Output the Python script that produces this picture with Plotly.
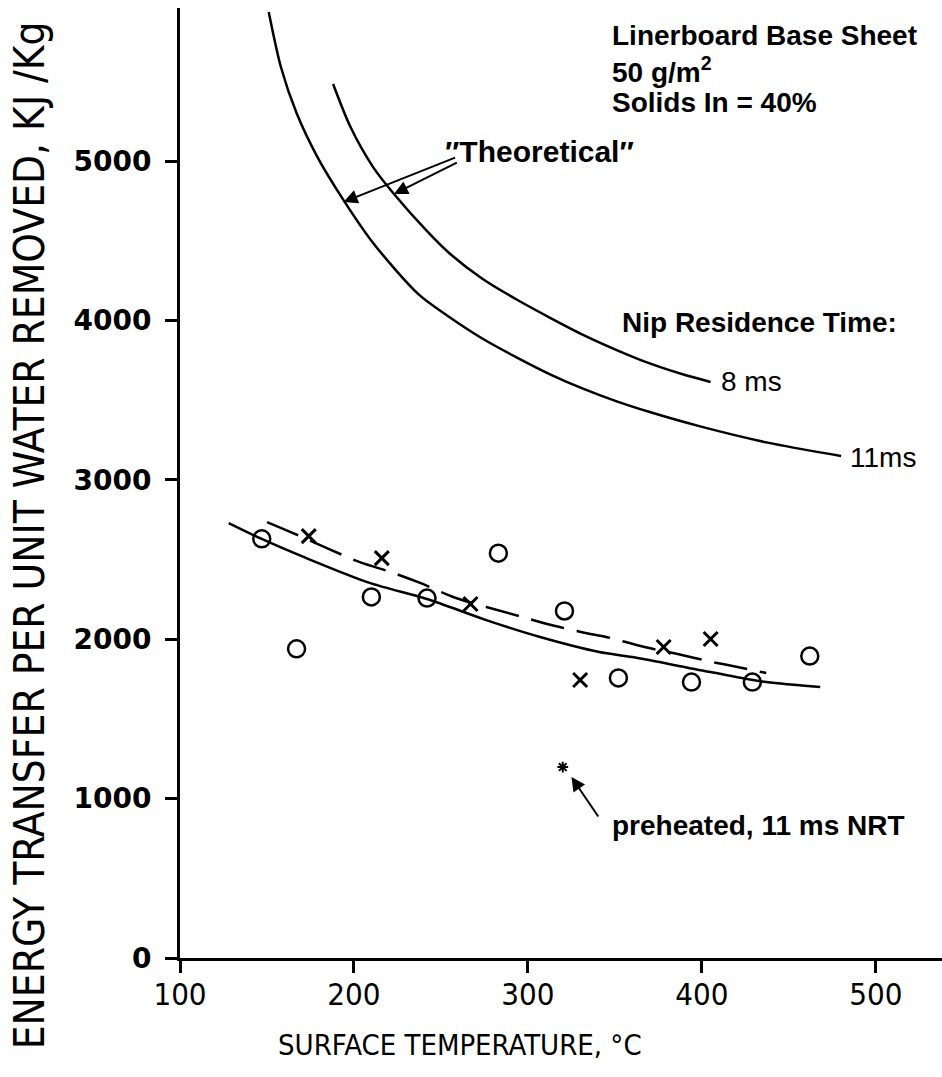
import plotly.graph_objects as go

# ---- data ----
circle_temp = [147, 167, 210, 242, 283, 321, 352, 394, 429, 462]
circle_energy = [2630, 1940, 2265, 2258, 2540, 2177, 1757, 1731, 1731, 1894]

cross_temp = [174, 216, 267, 330, 378, 405]
cross_energy = [2647, 2509, 2221, 1744, 1951, 2001]

preheated_temp = [320]
preheated_energy = [1198]

fit_circle_temp = [128, 147, 171, 209, 242, 276, 307, 341, 360, 405, 437, 468]
fit_circle_energy = [2729, 2629, 2516, 2353, 2252, 2120, 2014, 1920, 1888, 1794, 1731, 1700]

fit_cross_temp = [150, 165, 203, 221, 238, 257, 297, 311, 333, 345, 367, 386, 406, 412, 437]
fit_cross_energy = [2735, 2666, 2485, 2422, 2353, 2265, 2139, 2095, 2039, 2014, 1951, 1907, 1857, 1844, 1788]

theo_11ms_temp = [151, 158, 167, 179, 194, 211, 237, 255, 274, 294, 313, 332, 351, 370, 399, 437, 480]
theo_11ms_energy = [5935, 5590, 5301, 5025, 4755, 4486, 4165, 4020, 3885, 3765, 3660, 3570, 3492, 3425, 3335, 3235, 3150]

theo_8ms_temp = [188, 198, 211, 223, 242, 255, 274, 294, 313, 332, 351, 370, 388, 405]
theo_8ms_energy = [5483, 5213, 4962, 4793, 4560, 4420, 4260, 4128, 4015, 3908, 3814, 3730, 3665, 3614]

x_ticks = [100, 200, 300, 400, 500]
y_ticks = [0, 1000, 2000, 3000, 4000, 5000]

NARROW = "DejaVu Sans Condensed, Liberation Sans Narrow, Arial Narrow, sans-serif"
BOLD = "DejaVu Sans, Arial, sans-serif"
SANS = "Liberation Sans, Arial, sans-serif"

fig = go.Figure()

line_style = dict(color="black", width=2.5)
fig.add_trace(go.Scatter(x=theo_11ms_temp, y=theo_11ms_energy, mode="lines",
                         line=dict(line_style, shape="spline", smoothing=0.8), showlegend=False))
fig.add_trace(go.Scatter(x=theo_8ms_temp, y=theo_8ms_energy, mode="lines",
                         line=dict(line_style, shape="spline", smoothing=0.8), showlegend=False))
fig.add_trace(go.Scatter(x=fit_circle_temp, y=fit_circle_energy, mode="lines",
                         line=dict(line_style, shape="spline", smoothing=0.8), showlegend=False))
fig.add_trace(go.Scatter(x=fit_cross_temp, y=fit_cross_energy, mode="lines",
                         line=dict(color="black", width=2.5, dash="34px,13px", shape="spline", smoothing=0.8),
                         showlegend=False))
fig.add_trace(go.Scatter(x=circle_temp, y=circle_energy, mode="markers",
                         marker=dict(symbol="circle-open", size=17, color="black", line=dict(width=2.5)),
                         showlegend=False))
fig.add_trace(go.Scatter(x=cross_temp, y=cross_energy, mode="markers",
                         marker=dict(symbol="x-thin-open", size=14, color="black", line=dict(width=3)),
                         showlegend=False))
fig.add_trace(go.Scatter(x=preheated_temp, y=preheated_energy, mode="markers",
                         marker=dict(symbol="asterisk-open", size=9, color="black", line=dict(width=2)),
                         showlegend=False))

annotations = []
# top-right block
for txt, yv in [("Linerboard Base Sheet", 5790), ("50 g/m<sup>2</sup>", 5571), ("Solids In = 40%", 5370)]:
    annotations.append(dict(x=347, y=yv, xref="x", yref="y", text=txt, showarrow=False,
                            xanchor="left", yanchor="middle",
                            font=dict(family=SANS, size=28, color="black", weight="bold")))
annotations.append(dict(x=251, y=5060, xref="x", yref="y", text="\u2033Theoretical\u2033", showarrow=False,
                        xanchor="left", yanchor="middle",
                        font=dict(family=SANS, size=30, color="black", weight="bold")))
# theoretical arrows
annotations.append(dict(x=194, y=4743, ax=259, ay=5025, xref="x", yref="y", axref="x", ayref="y",
                        text="", showarrow=True, arrowhead=2, arrowsize=1.4, arrowwidth=2, arrowcolor="black"))
annotations.append(dict(x=223, y=4793, ax=260, ay=4995, xref="x", yref="y", axref="x", ayref="y",
                        text="", showarrow=True, arrowhead=2, arrowsize=1.4, arrowwidth=2, arrowcolor="black"))
annotations.append(dict(x=353, y=3990, xref="x", yref="y", text="Nip Residence Time:", showarrow=False,
                        xanchor="left", yanchor="middle",
                        font=dict(family=SANS, size=28, color="black", weight="bold")))
annotations.append(dict(x=410, y=3614, xref="x", yref="y", text="8 ms", showarrow=False,
                        xanchor="left", yanchor="middle",
                        font=dict(family=SANS, size=28, color="black")))
annotations.append(dict(x=484, y=3140, xref="x", yref="y", text="11ms", showarrow=False,
                        xanchor="left", yanchor="middle",
                        font=dict(family=SANS, size=28, color="black")))
# preheated arrow + label
annotations.append(dict(x=325, y=1136, ax=341, ay=878, xref="x", yref="y", axref="x", ayref="y",
                        text="", showarrow=True, arrowhead=2, arrowsize=1.4, arrowwidth=2, arrowcolor="black"))
annotations.append(dict(x=347, y=834, xref="x", yref="y", text="preheated, 11 ms NRT", showarrow=False,
                        xanchor="left", yanchor="middle",
                        font=dict(family=SANS, size=28, color="black", weight="bold")))
# y axis title
annotations.append(dict(x=-0.198, y=0.445, xref="paper", yref="paper",
                        text="ENERGY TRANSFER PER UNIT WATER REMOVED, KJ /Kg", textangle=-90,
                        showarrow=False, xanchor="center", yanchor="middle",
                        font=dict(family=NARROW, size=42, color="black")))
# x axis title
annotations.append(dict(x=0.368, y=-0.092, xref="paper", yref="paper",
                        text="SURFACE TEMPERATURE, °C", showarrow=False,
                        xanchor="center", yanchor="middle",
                        font=dict(family=NARROW, size=29, color="black")))

fig.update_layout(
    width=942, height=1077,
    margin=dict(l=180, r=0, t=8, b=119),
    paper_bgcolor="white", plot_bgcolor="white",
    annotations=annotations,
    xaxis=dict(range=[100, 538], tickvals=x_ticks, ticktext=[str(v) for v in x_ticks],
               showgrid=False, zeroline=False, showline=True, linecolor="black", linewidth=3,
               ticks="outside", ticklen=12, tickwidth=2.5, tickcolor="black", ticklabelstandoff=-5,
               tickfont=dict(family=NARROW, size=31, color="black")),
    yaxis=dict(range=[0, 5960], tickvals=y_ticks, ticktext=[str(v) for v in y_ticks],
               showgrid=False, zeroline=False, showline=True, linecolor="black", linewidth=3,
               ticks="outside", ticklen=12, tickwidth=2.5, tickcolor="black", ticklabelstandoff=8,
               tickfont=dict(family=BOLD, size=28, color="black", weight="bold")),
)

fig.write_html("out.html")
